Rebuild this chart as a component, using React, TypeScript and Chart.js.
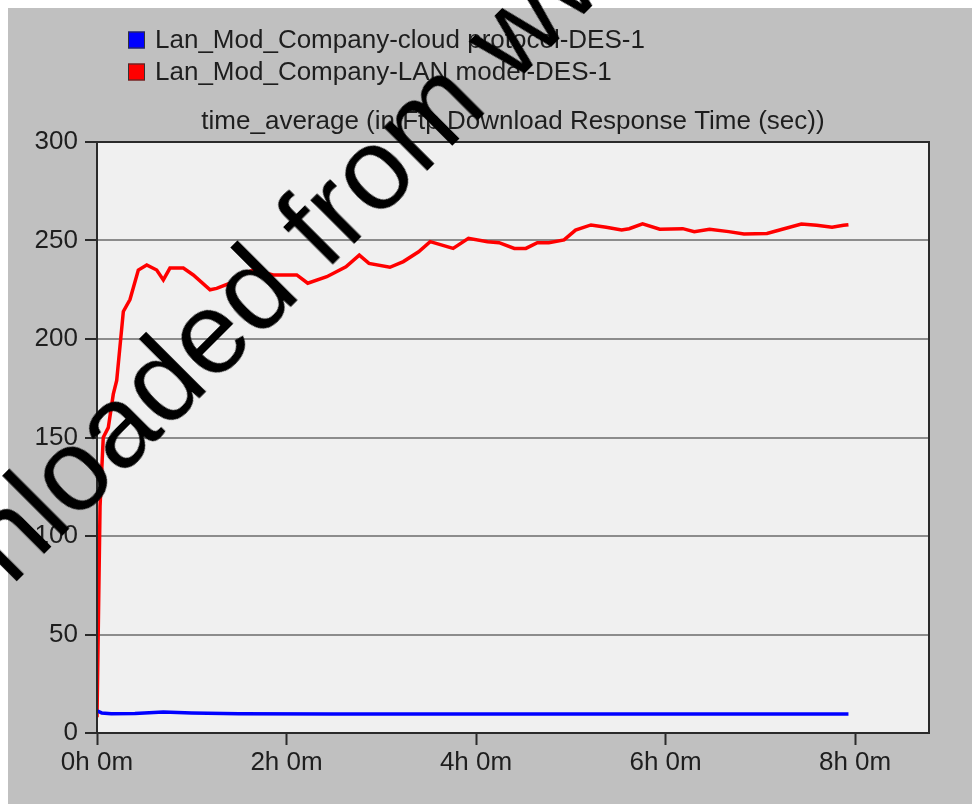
import React, { useEffect, useRef } from "react";
import { Chart, registerables } from "chart.js";

Chart.register(...registerables);

// ---- data ----
const seriesLabels = [
  "Lan_Mod_Company-cloud protocol-DES-1",
  "Lan_Mod_Company-LAN model-DES-1",
];
const chartTitle = "time_average (in Ftp.Download Response Time (sec))";

const blueHours = [0, 0.05, 0.15, 0.4, 0.7, 1.0, 1.5, 2.5, 4.0, 6.0, 7.93];
const blueValues = [11.2, 10.2, 9.8, 9.9, 10.6, 10.2, 9.8, 9.6, 9.6, 9.6, 9.6];

const redHours = [
  0, 0.032, 0.066, 0.119, 0.172, 0.208, 0.278, 0.348, 0.436, 0.525, 0.63, 0.7,
  0.77, 0.911, 1.016, 1.193, 1.263, 1.404, 1.509, 1.65, 1.861, 2.108, 2.224,
  2.425, 2.627, 2.768, 2.87, 3.091, 3.233, 3.394, 3.516, 3.758, 3.92, 4.121,
  4.243, 4.404, 4.526, 4.647, 4.768, 4.929, 5.05, 5.213, 5.374, 5.536, 5.616,
  5.757, 5.939, 6.182, 6.303, 6.464, 6.666, 6.827, 7.07, 7.232, 7.433, 7.595,
  7.757, 7.878, 7.93,
];
const redValues = [
  8, 115, 150, 155, 172, 179, 214, 220, 235, 237.6, 235, 230, 236, 236, 232.5,
  225, 225.7, 228.3, 232.5, 235, 232.5, 232.5, 228.3, 231.6, 236.7, 242.6,
  238.4, 236.4, 239.3, 244.3, 249.4, 246, 251.1, 249.4, 248.9, 246, 246, 248.9,
  248.9, 250.3, 255.3, 257.9, 256.7, 255.3, 256, 258.4, 255.7, 256, 254.5,
  255.7, 254.5, 253.3, 253.6, 255.7, 258.4, 257.7, 256.7, 257.7, 258,
];

const xTickValues = [0, 2, 4, 6, 8];
const xTickLabels = ["0h 0m", "2h 0m", "4h 0m", "6h 0m", "8h 0m"];
const yTickValues = [0, 50, 100, 150, 200, 250, 300];
const xMax = 8.78;

const watermarkText = "Downloaded from www";

const FONT = "'Liberation Sans', Arial, sans-serif";
const TEXT_COLOR = "#1e1e1e";

const decorPlugin = {
  id: "decor",
  beforeDraw(chart: any) {
    const { ctx, chartArea: a } = chart;
    ctx.save();
    ctx.fillStyle = "#f0f0f0";
    ctx.fillRect(a.left, a.top, a.right - a.left, a.bottom - a.top);
    ctx.restore();
  },
  afterDraw(chart: any) {
    const { ctx, chartArea: a } = chart;
    ctx.save();
    ctx.strokeStyle = "#2a2a2a";
    ctx.lineWidth = 2;
    ctx.strokeRect(a.left, a.top, a.right - a.left, a.bottom - a.top);

    ctx.font = `26px ${FONT}`;
    ctx.textBaseline = "middle";
    ctx.textAlign = "left";
    const rowY = [32, 64];
    chart.data.datasets.forEach((ds: any, i: number) => {
      const y = rowY[i];
      ctx.fillStyle = ds.borderColor;
      ctx.fillRect(120, y - 8.5, 17, 17);
      ctx.strokeStyle = "#333";
      ctx.lineWidth = 1;
      ctx.strokeRect(120.5, y - 8, 16, 16);
      ctx.fillStyle = TEXT_COLOR;
      ctx.fillText(ds.label, 147, y + 1);
    });

    ctx.textAlign = "center";
    ctx.fillStyle = TEXT_COLOR;
    ctx.fillText(chartTitle, (a.left + a.right) / 2, 114);
    ctx.restore();
  },
};

export default function App() {
  const ref = useRef<HTMLCanvasElement | null>(null);

  useEffect(() => {
    document.documentElement.style.overflow = "hidden";
    document.body.style.overflow = "hidden";
    const canvas = ref.current;
    if (!canvas) return;
    const chart = new Chart(canvas, {
      type: "line",
      data: {
        datasets: [
          {
            label: seriesLabels[0],
            data: blueHours.map((h, i) => ({ x: h, y: blueValues[i] })),
            borderColor: "#0000ff",
            backgroundColor: "#0000ff",
            borderWidth: 3.5,
            pointRadius: 0,
            tension: 0,
          },
          {
            label: seriesLabels[1],
            data: redHours.map((h, i) => ({ x: h, y: redValues[i] })),
            borderColor: "#ff0000",
            backgroundColor: "#ff0000",
            borderWidth: 3.5,
            pointRadius: 0,
            tension: 0,
          },
        ],
      },
      options: {
        responsive: false,
        animation: false,
        events: [],
        layout: { padding: { top: 134, left: 0, right: 51, bottom: 21 } },
        plugins: {
          legend: { display: false },
          title: { display: false },
          tooltip: { enabled: false },
        },
        scales: {
          x: {
            type: "linear",
            min: 0,
            max: xMax,
            afterBuildTicks: (scale: any) => {
              scale.ticks = xTickValues.map((v) => ({ value: v }));
            },
            afterFit: (scale: any) => {
              scale.height = 50;
            },
            ticks: {
              autoSkip: false,
              maxRotation: 0,
              padding: 2,
              color: TEXT_COLOR,
              font: { family: FONT, size: 26 },
              callback: (v: any) => {
                const idx = xTickValues.indexOf(Number(v));
                return idx >= 0 ? xTickLabels[idx] : "";
              },
            },
            grid: {
              drawOnChartArea: false,
              drawTicks: true,
              tickLength: 12,
              tickColor: "#2a2a2a",
              tickWidth: 2,
            },
            border: { display: true, color: "#2a2a2a", width: 2 },
          },
          y: {
            min: 0,
            max: 300,
            afterBuildTicks: (scale: any) => {
              scale.ticks = yTickValues.map((v) => ({ value: v }));
            },
            afterFit: (scale: any) => {
              scale.width = 89;
            },
            ticks: {
              padding: 7,
              color: TEXT_COLOR,
              font: { family: FONT, size: 26 },
            },
            grid: {
              drawOnChartArea: true,
              color: "#8c8c8c",
              lineWidth: 2,
              drawTicks: true,
              tickLength: 12,
              tickColor: "#2a2a2a",
              tickWidth: 2,
            },
            border: { display: true, color: "#2a2a2a", width: 2 },
          },
        },
      },
      plugins: [decorPlugin],
    } as any);
    return () => chart.destroy();
  }, []);

  return (
    <div
      style={{
        position: "relative",
        width: 972,
        height: 796,
        background: "#c0c0c0",
      }}
    >
      <canvas ref={ref} width={972} height={796} style={{ display: "block" }} />
      <div
        style={{
          position: "fixed",
          left: -152.9,
          top: 750.9,
          width: 0,
          height: 0,
          transform: "rotate(-45deg)",
          transformOrigin: "0 0",
          pointerEvents: "none",
        }}
      >
        <span
          style={{
            position: "absolute",
            left: 0,
            top: -98.2,
            fontFamily: FONT,
            fontSize: 116,
            lineHeight: "116px",
            color: "#000",
            whiteSpace: "nowrap",
          }}
        >
          {watermarkText}
        </span>
      </div>
    </div>
  );
}
